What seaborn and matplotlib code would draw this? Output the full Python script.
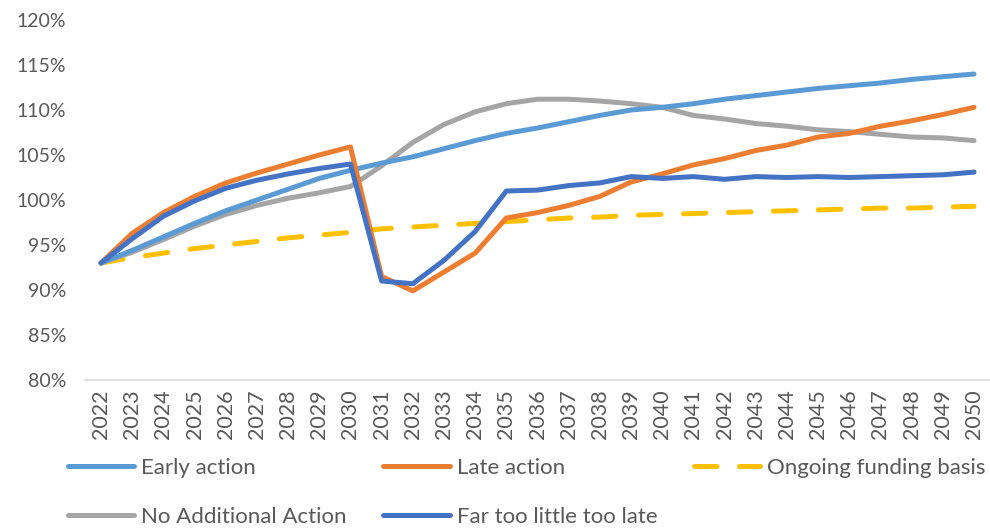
import numpy as np
import pandas as pd
import matplotlib
matplotlib.use("Agg")
import matplotlib.pyplot as plt
import seaborn as sns
from matplotlib.ticker import PercentFormatter

years = list(range(2022, 2051))

early_action = [93.0, 94.4, 95.9, 97.4, 98.8, 100.0, 101.2, 102.4, 103.3, 104.1,
                104.8, 105.7, 106.6, 107.4, 108.0, 108.7, 109.4, 110.0, 110.3, 110.7,
                111.2, 111.6, 112.0, 112.4, 112.7, 113.0, 113.4, 113.7, 114.0]
late_action = [93.0, 96.3, 98.6, 100.4, 101.9, 103.0, 104.0, 105.0, 105.9, 91.5,
               89.9, 92.0, 94.1, 98.0, 98.6, 99.4, 100.4, 102.0, 102.9, 103.9,
               104.6, 105.5, 106.1, 107.0, 107.4, 108.2, 108.8, 109.5, 110.3]
ongoing_funding = [93.0, 93.6, 94.1, 94.6, 95.0, 95.4, 95.8, 96.1, 96.4, 96.8,
                   97.0, 97.2, 97.4, 97.6, 97.8, 98.0, 98.1, 98.3, 98.4, 98.5,
                   98.6, 98.7, 98.8, 98.9, 99.0, 99.1, 99.1, 99.2, 99.3]
no_additional = [93.0, 94.2, 95.6, 97.1, 98.4, 99.4, 100.2, 100.8, 101.5, 103.8,
                 106.4, 108.4, 109.8, 110.7, 111.2, 111.2, 111.0, 110.7, 110.3, 109.4,
                 109.0, 108.5, 108.2, 107.8, 107.6, 107.3, 107.0, 106.9, 106.6]
far_too_little = [93.0, 95.7, 98.2, 99.9, 101.3, 102.2, 102.9, 103.5, 104.0, 91.0,
                  90.7, 93.3, 96.5, 101.0, 101.1, 101.6, 101.9, 102.6, 102.4, 102.6,
                  102.3, 102.6, 102.5, 102.6, 102.5, 102.6, 102.7, 102.8, 103.1]

series = {
    "Early action": early_action,
    "Late action": late_action,
    "Ongoing funding basis": ongoing_funding,
    "No Additional Action": no_additional,
    "Far too little too late": far_too_little,
}
colors = {
    "Early action": "#5B9BD5",
    "Late action": "#ED7D31",
    "Ongoing funding basis": "#FFC000",
    "No Additional Action": "#A5A5A5",
    "Far too little too late": "#4472C4",
}
# draw order (blue on top)
draw_order = ["Ongoing funding basis", "No Additional Action", "Early action",
              "Late action", "Far too little too late"]

sns.set_style("white")
plt.rcParams["font.family"] = ["Lato", "DejaVu Sans"]

fig = plt.figure(figsize=(9.9, 5.28), dpi=100)
ax = fig.add_axes([0.0863, 0.2803, 0.9133, 0.6818])

handles = {}
for name in draw_order:
    df = pd.DataFrame({"year": years, "value": np.array(series[name]) / 100})
    sns.lineplot(data=df, x="year", y="value", ax=ax, color=colors[name],
                 linewidth=3.6, label=name)
    line = ax.get_lines()[-1]
    line.set_solid_capstyle("round")
    if name == "Ongoing funding basis":
        line.set_dashes([4.5, 4.5])
        line.set_dash_capstyle("round")
    handles[name] = line

ax.get_legend().remove()
ax.set_xlim(2021.5, 2050.5)
ax.set_ylim(0.80, 1.20)
ax.set_yticks(np.arange(0.80, 1.201, 0.05))
ax.yaxis.set_major_formatter(PercentFormatter(1.0, decimals=0))
ax.set_xticks(years)
ax.set_xticklabels([str(y) for y in years], rotation=90)
ax.set_xlabel("")
ax.set_ylabel("")
ax.tick_params(axis="y", length=0, pad=14, labelsize=14, labelcolor="#595959")
ax.tick_params(axis="x", length=0, pad=7, labelsize=15.5, labelcolor="#595959")
for s in ["top", "right", "left"]:
    ax.spines[s].set_visible(False)
ax.spines["bottom"].set_color("#D9D9D9")
ax.spines["bottom"].set_linewidth(1.2)
ax.grid(False)

order = ["Early action", "No Additional Action", "Late action",
         "Far too little too late", "Ongoing funding basis"]
fig.legend([handles[n] for n in order], order, loc="center",
           bbox_to_anchor=(0.532, 0.068), ncol=3, frameon=False,
           fontsize=16, labelcolor="#595959", handlelength=3.0,
           handletextpad=0.3, columnspacing=1.65, labelspacing=1.3,
           borderpad=0)

fig.savefig("out.png", dpi=100)
